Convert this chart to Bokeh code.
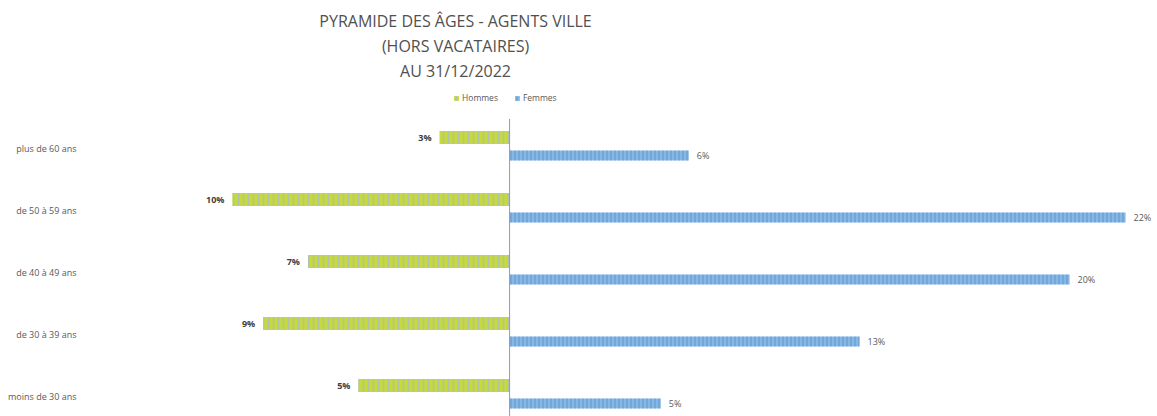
from bokeh.plotting import figure
from bokeh.models import Range1d, FixedTicker, ColumnDataSource, Legend, LegendItem
from bokeh.core.properties import value
from bokeh.embed import file_html
from bokeh.resources import INLINE

# ---- data ----
categories = ["moins de 30 ans", "de 30 à 39 ans", "de 40 à 49 ans", "de 50 à 59 ans", "plus de 60 ans"]
hommes = [5.4, 8.8, 7.2, 9.9, 2.5]
femmes = [5.4, 12.5, 20.0, 22.0, 6.4]
hommes_labels = ["5%", "9%", "7%", "10%", "3%"]
femmes_labels = ["5%", "13%", "20%", "22%", "6%"]
title_lines = ["PYRAMIDE DES ÂGES - AGENTS VILLE", "(HORS VACATAIRES)", "AU 31/12/2022"]
series_names = ["Hommes", "Femmes"]

GREEN = "#c6da3a"
GREEN_H = "#a9bccf"
BLUE = "#86b8e6"
BLUE_H = "#4f86c0"
GREY = "#595959"

pos = list(range(len(categories)))
men_y = [c + 0.18 for c in pos]
women_y = [c - 0.11 for c in pos]

src_m = ColumnDataSource(dict(y=men_y, left=[-v for v in hommes], lab=hommes_labels))
src_f = ColumnDataSource(dict(y=women_y, right=femmes, lab=femmes_labels))

p = figure(width=1157, height=416, output_backend="svg", toolbar_location=None,
           x_range=Range1d(-15.11, 23.14), y_range=Range1d(-0.32, 6.39),
           min_border_left=86, min_border_right=0, min_border_top=0, min_border_bottom=0)
p.outline_line_color = None
p.grid.visible = False
p.xaxis.visible = False

ya = p.yaxis[0]
ya.ticker = FixedTicker(ticks=pos)
ya.major_label_overrides = {i: c for i, c in enumerate(categories)}
ya.axis_line_color = None
ya.major_tick_line_color = None
ya.minor_tick_line_color = None
ya.major_label_text_font = "Open Sans"
ya.major_label_text_font_size = "9px"
ya.major_label_text_color = GREY
ya.major_label_standoff = 4

rm = p.hbar(y="y", left="left", right=0, height=0.21, source=src_m,
            fill_color=GREEN, line_color=None,
            hatch_pattern="vertical_line", hatch_color=GREEN_H, hatch_scale=5, hatch_weight=1.5, hatch_alpha=0.8)
rf = p.hbar(y="y", left=0, right="right", height=0.16, source=src_f,
            fill_color=BLUE, line_color=None,
            hatch_pattern="vertical_line", hatch_color=BLUE_H, hatch_scale=4, hatch_weight=1, hatch_alpha=0.7)

# zero axis line
p.segment(x0=[0], y0=[-0.32], x1=[0], y1=[4.48], line_color="#9a9a9a", line_width=1)

p.text(x="left", y="y", text="lab", source=src_m, text_align="right", text_baseline="middle",
       x_offset=-8, text_font=value("Open Sans"), text_font_size="9px", text_font_style="bold",
       text_color="#404040")
p.text(x="right", y="y", text="lab", source=src_f, text_align="left", text_baseline="middle",
       x_offset=8, text_font=value("Open Sans"), text_font_size="9px", text_color=GREY)

# title
p.text(x=[-1.93] * 3, y=[6.06, 5.66, 5.26], text=title_lines, text_align="center",
       text_baseline="middle", text_font=value("Open Sans"), text_font_size="16px",
       text_color="#505050")

legend = Legend(items=[LegendItem(label=series_names[0], renderers=[rm]),
                       LegendItem(label=series_names[1], renderers=[rf])],
                orientation="horizontal", location=(367, 313),
                label_text_font="Open Sans", label_text_font_size="8.5px", label_text_color=GREY,
                glyph_width=6, glyph_height=6, label_standoff=3, spacing=16, padding=0,
                border_line_color=None, background_fill_alpha=0, label_height=9)
p.add_layout(legend, "center")

open("out.html", "w").write(file_html(p, INLINE))
